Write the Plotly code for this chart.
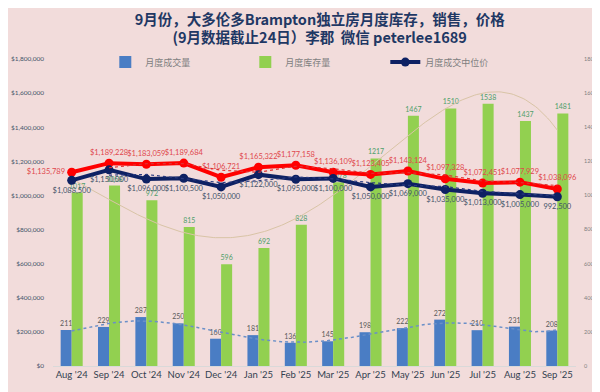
import numpy as np
import plotly.graph_objects as go

months = ["Aug '24", "Sep '24", "Oct '24", "Nov '24", "Dec '24", "Jan '25", "Feb '25",
          "Mar '25", "Apr '25", "May '25", "Jun '25", "Jul '25", "Aug '25", "Sep '25"]
sales = [211, 229, 287, 250, 160, 181, 136, 145, 198, 222, 272, 210, 231, 208]
inventory = [1017, 1058, 972, 815, 596, 692, 828, 1078, 1217, 1467, 1510, 1538, 1437, 1481]
median_price = [1088500, 1150000, 1096000, 1100500, 1050000, 1122000, 1095000,
                1100000, 1050000, 1069000, 1035000, 1013000, 1005000, 992500]
avg_price = [1135789, 1189228, 1183059, 1189684, 1106721, 1165322, 1177158,
             1136109, 1123405, 1143124, 1097328, 1072451, 1077929, 1038096]

x = list(range(len(months)))
FONT = "Lato, 'Noto Sans CJK SC', sans-serif"

fig = go.Figure()

# bars (right axis, base axis so lines draw on top)
fig.add_trace(go.Bar(x=x, y=sales, name="月度成交量", yaxis="y",
                     marker=dict(color="#4A7DC4"),
                     text=[str(v) for v in sales], textposition="outside",
                     constraintext="none",
                     textfont=dict(size=7, color="#595959", family=FONT),
                     cliponaxis=False))
fig.add_trace(go.Bar(x=x, y=inventory, name="月度库存量", yaxis="y",
                     marker=dict(color="#92D050"),
                     text=[str(v) for v in inventory], textposition="outside",
                     constraintext="none",
                     textfont=dict(size=7, color="#4E9F6A", family=FONT),
                     cliponaxis=False))

# polynomial trendlines for bars (fitted from the data)
xd = np.linspace(0, len(months) - 1, 200)
inv_fit = np.polyval(np.polyfit(x, inventory, 4), xd)
sal_fit = np.polyval(np.polyfit(x, sales, 6), xd)
fig.add_trace(go.Scatter(x=xd, y=inv_fit, mode="lines", yaxis="y", showlegend=False,
                         line=dict(color="#D9C4A6", width=1), hoverinfo="skip"))
fig.add_trace(go.Scatter(x=xd, y=sal_fit, mode="lines", yaxis="y", showlegend=False,
                         line=dict(color="#6A8FC8", width=1.5, dash="dot"), hoverinfo="skip"))

# moving-average (2 period) dotted trendlines for prices
ma_avg = [None] + [(avg_price[i - 1] + avg_price[i]) / 2 for i in range(1, len(avg_price))]
ma_med = [None] + [(median_price[i - 1] + median_price[i]) / 2 for i in range(1, len(median_price))]

# lines (left axis)
fig.add_trace(go.Scatter(x=x, y=avg_price, mode="lines+markers+text", yaxis="y2",
                         showlegend=False, name="平均价",
                         line=dict(color="#FF0000", width=4),
                         marker=dict(size=9, color="#FF0000"),
                         text=[f"${v:,}" for v in avg_price],
                         textposition=["middle left"] + ["top center"] * (len(x) - 1),
                         textfont=dict(size=7.5, color="#E0474C", family=FONT),
                         cliponaxis=False))
fig.add_trace(go.Scatter(x=x, y=median_price, mode="lines+markers+text", yaxis="y2",
                         name="月度成交中位价",
                         line=dict(color="#0E2163", width=4),
                         marker=dict(size=9, color="#0E2163"),
                         text=[f"${v:,}" if v >= 1000000 else f"{v:,}" for v in median_price],
                         textposition="bottom center",
                         textfont=dict(size=7.5, color="#44546A", family=FONT),
                         cliponaxis=False))
fig.add_trace(go.Scatter(x=x, y=ma_avg, mode="lines", yaxis="y2", showlegend=False,
                         line=dict(color="#E03030", width=1.2, dash="dot"), hoverinfo="skip"))
fig.add_trace(go.Scatter(x=x, y=ma_med, mode="lines", yaxis="y2", showlegend=False,
                         line=dict(color="#2A3A80", width=1.2, dash="dot"), hoverinfo="skip"))

fig.update_layout(
    template=None,
    width=592, height=384,
    paper_bgcolor="#F2DCDB", plot_bgcolor="#F2DCDB",
    margin=dict(l=45, r=24, t=51, b=26, autoexpand=False),
    barmode="group", bargap=0.41, bargroupgap=0,
    font=dict(family=FONT, color="#44546A"),
    title=dict(text="9月份，大多伦多Brampton独立房月度库存，销售，价格<br>(9月数据截止24日）李郡  微信 peterlee1689",
               x=0.51, xanchor="center", xref="paper", yref="container",
               y=1 - 16.5 / 384, yanchor="middle",
               font=dict(size=14.5, color="#1F3864", family="'Noto Sans CJK SC', sans-serif", weight="bold")),
    xaxis=dict(range=[-0.5, len(months) - 0.5], tickvals=x, ticktext=months,
               tickangle=0, automargin=False,
               showgrid=False, zeroline=False, showline=True, linecolor="#D9D9D9",
               ticks="", tickfont=dict(size=9.5, color="#333F50", family=FONT)),
    yaxis=dict(side="right", range=[0, 1800], dtick=200, showgrid=False, zeroline=False,
               showline=False, automargin=False,
               tickfont=dict(size=5.5, color="#7F7F7F", family=FONT), ticklabelstandoff=7),
    yaxis2=dict(side="left", overlaying="y", range=[0, 1800000], dtick=200000,
                tickformat="$,.0f", showgrid=False, zeroline=False, showline=False,
                automargin=False,
                tickfont=dict(size=6.5, color="#44546A", family=FONT), ticklabelstandoff=8),
    legend=dict(orientation="h", x=0.1, xanchor="left", y=0.99, yanchor="middle",
                bgcolor="rgba(0,0,0,0)", entrywidth=95, entrywidthmode="pixels",
                font=dict(size=9, color="#7F7F7F", family=FONT)),
    showlegend=True,
)

fig.write_html("out.html")
